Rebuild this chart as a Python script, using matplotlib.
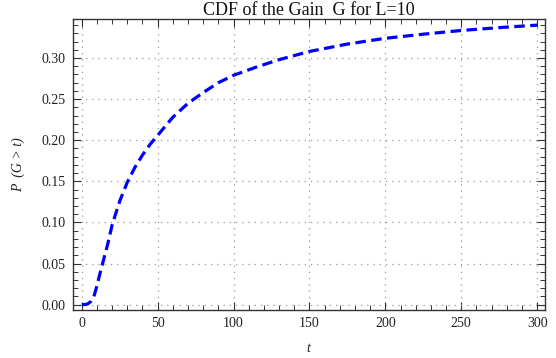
import matplotlib
matplotlib.use("Agg")
import matplotlib.pyplot as plt
from matplotlib.ticker import MultipleLocator

t_values = [0, 2, 4, 6, 8, 10, 12, 14, 17, 20, 25, 30, 35, 40, 45, 50, 60, 70,
            80, 90, 100, 115, 130, 150, 175, 200, 225, 250, 275, 300]
p_values = [0.0, 0.0002, 0.001, 0.004, 0.010, 0.023, 0.038, 0.052, 0.073, 0.097,
            0.126, 0.149, 0.167, 0.182, 0.195, 0.206, 0.228, 0.245, 0.258, 0.270,
            0.279, 0.289, 0.298, 0.308, 0.317, 0.324, 0.329, 0.3335, 0.337, 0.340]

title_text = "CDF of the Gain  G for L=10"
x_label = "t"
y_label = "P  (G > t)"

plt.rcParams['font.family'] = ['Liberation Serif', 'DejaVu Serif']

fig = plt.figure(figsize=(5.56, 3.58), dpi=100)
ax = fig.add_axes([0.1307, 0.134, 0.849, 0.813])

ax.plot(t_values, p_values, color='#0000ff', linewidth=2.3,
        linestyle=(0, (3.3, 1.7)), dash_capstyle='butt')

ax.set_xlim(-6, 305)
ax.set_ylim(-0.0065, 0.3475)

ax.xaxis.set_major_locator(MultipleLocator(50))
ax.xaxis.set_minor_locator(MultipleLocator(10))
ax.yaxis.set_major_locator(MultipleLocator(0.05))
ax.yaxis.set_minor_locator(MultipleLocator(0.01))
ax.yaxis.set_major_formatter(matplotlib.ticker.FormatStrFormatter('%.2f'))

ax.tick_params(which='both', direction='in', top=True, right=True,
               color='#333333', labelsize=10, labelcolor='#222222')
ax.tick_params(which='major', length=6, width=0.8, pad=5)
ax.tick_params(which='minor', length=3.5, width=0.7)

for sp in ax.spines.values():
    sp.set_color('#333333')
    sp.set_linewidth(1.0)

ax.grid(True, which='major', linestyle=(0, (1, 4)), color='#999999', linewidth=0.9)

ax.set_title(title_text, fontsize=13, pad=2, color='#111111')
ax.set_xlabel(x_label, fontsize=10, style='italic', labelpad=9, color='#222222')
ax.set_ylabel(y_label, fontsize=10, style='italic', labelpad=12, color='#222222')

fig.savefig("out.png", dpi=100)
